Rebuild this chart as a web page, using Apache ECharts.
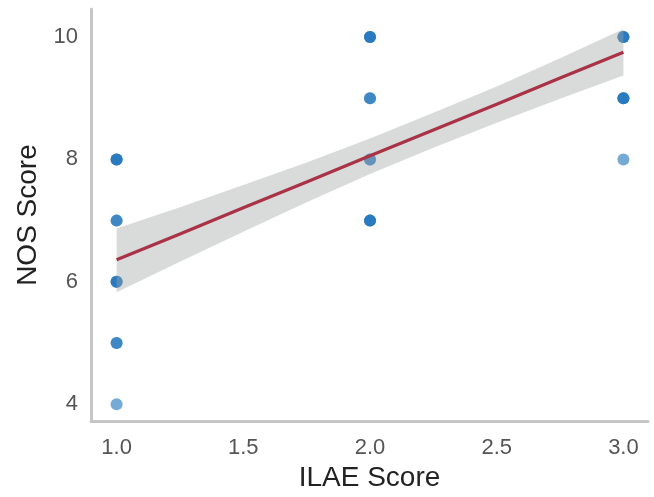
<!DOCTYPE html>
<html>
<head>
<meta charset="utf-8">
<script src="https://cdn.jsdelivr.net/npm/echarts@6/dist/echarts.min.js"></script>
<style>
html,body{margin:0;padding:0;background:#fff;overflow:hidden;}
#chart{width:654px;height:497px;}
</style>
</head>
<body>
<div id="chart"></div>
<script>
// Scatter points (ILAE score, NOS score) and estimated overlap counts
const ptX = [1, 1, 1, 1, 1, 2, 2, 2, 2, 3, 3, 3];
const ptY = [8, 7, 6, 5, 4, 10, 9, 8, 7, 10, 9, 8];
const ptCount = [3, 2, 3, 2, 1, 3, 2, 2, 3, 3, 3, 1];

// Regression line and confidence band
const fitX = [1, 1.25, 1.5, 1.75, 2, 2.25, 2.5, 2.75, 3];
const fitY = [6.36, 6.78, 7.21, 7.63, 8.06, 8.48, 8.90, 9.33, 9.75];
const bandLow = [5.83, 6.33, 6.82, 7.30, 7.76, 8.19, 8.60, 8.99, 9.37];
const bandHigh = [6.87, 7.22, 7.58, 7.95, 8.34, 8.76, 9.19, 9.65, 10.13];

// Tick labels
const xTicks = [1.0, 1.5, 2.0, 2.5, 3.0];
const yTicks = [4, 6, 8, 10];

const scatterData = [];
ptX.forEach((x, i) => {
  for (let k = 0; k < ptCount[i]; k++) scatterData.push([x, ptY[i]]);
});
const bandData = fitX.map((x, i) => [x, bandLow[i], bandHigh[i]]);
const lineData = fitX.map((x, i) => [x, fitY[i]]);

const chart = echarts.init(document.getElementById('chart'), null, {renderer: 'canvas'});
const font = '"Liberation Sans", Arial, Helvetica, sans-serif';
chart.setOption({
  animation: false,
  backgroundColor: '#ffffff',
  grid: {left: 91, right: 6, top: 9, bottom: 70, containLabel: false},
  xAxis: {
    type: 'value', min: 0.899, max: 3.097,
    name: 'ILAE Score', nameLocation: 'middle', nameGap: 42,
    nameTextStyle: {fontFamily: font, fontSize: 28, color: '#222'},
    axisLine: {show: true, lineStyle: {color: '#c6c6c6', width: 3}},
    axisTick: {show: false},
    splitLine: {show: false},
    axisLabel: {
      customValues: xTicks, margin: 16, fontFamily: font, fontSize: 22, color: '#555',
      formatter: v => Number(v).toFixed(1)
    }
  },
  yAxis: {
    type: 'value', min: 3.726, max: 10.456,
    name: 'NOS Score', nameLocation: 'middle', nameGap: 46, nameRotate: 90,
    nameTextStyle: {fontFamily: font, fontSize: 28, color: '#222'},
    axisLine: {show: true, lineStyle: {color: '#c6c6c6', width: 3}},
    axisTick: {show: false},
    splitLine: {show: false},
    axisLabel: {
      customValues: yTicks, margin: 13, fontFamily: font, fontSize: 22, color: '#555',
      formatter: v => String(Math.round(v))
    }
  },
  series: [
    {
      type: 'scatter', data: scatterData, symbolSize: 12, z: 2,
      itemStyle: {color: '#1b71bb', opacity: 0.6}
    },
    {
      type: 'custom', z: 3, data: bandData,
      renderItem: function (params, api) {
        if (params.dataIndex !== 0) return null;
        const top = [], bot = [];
        for (let i = 0; i < bandData.length; i++) {
          top.push(api.coord([bandData[i][0], bandData[i][2]]));
          bot.push(api.coord([bandData[i][0], bandData[i][1]]));
        }
        return {
          type: 'polygon',
          shape: {points: top.concat(bot.reverse())},
          style: {fill: 'rgba(160,163,163,0.4)'}
        };
      }
    },
    {
      type: 'line', data: lineData, symbol: 'none', z: 4,
      lineStyle: {color: '#a93246', width: 3.2}
    }
  ]
});
</script>
</body>
</html>
